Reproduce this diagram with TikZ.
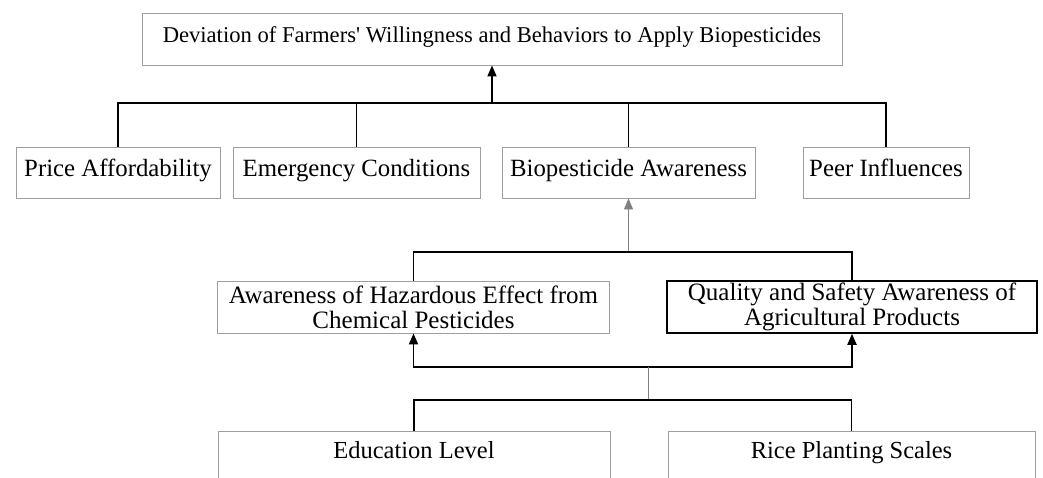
\documentclass[tikz,border=0pt]{standalone}
\usepackage{fontspec}
\setmainfont{Liberation Serif}
\usetikzlibrary{arrows.meta}
\tikzset{
    box/.style={draw=gray!75, line width=0.9pt, inner sep=0pt, align=center},
    one line/.style={text height=0.9em, text depth=0.2em},
    conn/.style={line width=1.8pt},
    tip/.style={-{Triangle[length=11pt,width=9pt]}},
    faint/.style={draw=gray, line width=0.9pt}
}
\begin{document}
\begin{tikzpicture}[x=1pt,y=-1pt]
    \useasboundingbox (0,0) rectangle (1043,477);
    % outcome
    \node[box, one line, minimum width=700pt, minimum height=52pt, font=\fontsize{22.6}{25}\selectfont] (goal) at (492,39)
        {Deviation of Farmers\textquotesingle\ Willingness and Behaviors to Apply Biopesticides};
    % factors
    \begin{scope}[every node/.style={box, one line, minimum height=51pt, font=\fontsize{24.8}{27}\selectfont}]
        \node[minimum width=204pt] (price) at (118,172.5) {Price Affordability};
        \node[minimum width=247pt] (emerg) at (356.5,172.5) {Emergency Conditions};
        \node[minimum width=253pt] (bio) at (628.5,172.5) {Biopesticide Awareness};
        \node[minimum width=166pt] (peer) at (886,172.5) {Peer Influences};
    \end{scope}
    % awareness
    \node[box, minimum width=392pt, minimum height=52pt, font=\fontsize{25}{25}\selectfont] (hazard) at (413.5,307)
        {Awareness of Hazardous Effect from\\Chemical Pesticides};
    \node[box, draw=black, line width=1.5pt, minimum width=370pt, minimum height=52pt, font=\fontsize{25}{25}\selectfont] (quality) at (852,307)
        {Quality and Safety Awareness of\\Agricultural Products};
    % background
    \node[box, one line, minimum width=392pt, minimum height=48pt, font=\fontsize{24.5}{27}\selectfont] (edu) at (414,455) {Education Level};
    \node[box, one line, minimum width=367pt, minimum height=48pt, font=\fontsize{24.5}{27}\selectfont] (rice) at (851.5,455) {Rice Planting Scales};

    \coordinate (busA) at (492,103);
    \coordinate (busB) at (628.5,252);
    \coordinate (busC) at (648,367);
    \coordinate (busD) at (648,400);

    \draw[conn] (price.north) |- (busA) -| (peer.north);
    \draw[conn] (emerg.north) -- (emerg.north |- busA);
    \draw[conn] (bio.north) -- (bio.north |- busA);
    \draw[conn,tip] (busA) -- (goal.south);

    \draw[faint,tip] (busB) -- (bio.south);
    \draw[conn] (hazard.north) |- (busB) -| (quality.north);

    \draw[conn,{Triangle[length=11pt,width=9pt]}-{Triangle[length=11pt,width=9pt]}]
        (hazard.south) -- (hazard.south |- busC) -- (busC -| quality.south) -- (quality.south);
    \draw[faint] (busC) -- (busD);
    \draw[conn] (edu.north) |- (busD) -| (rice.north);
\end{tikzpicture}
\end{document}
